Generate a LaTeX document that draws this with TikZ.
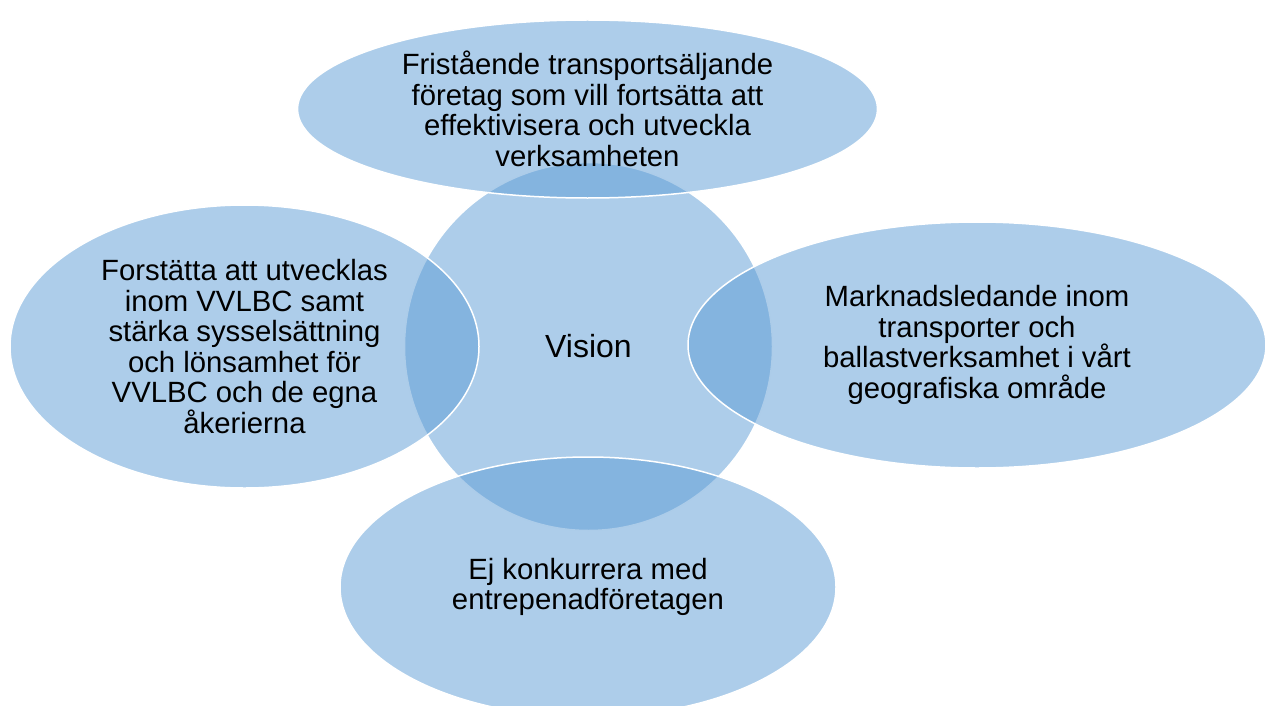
\documentclass[tikz,border=0pt]{standalone}
\usepackage{fontspec}
\setmainfont{Liberation Sans}
\usetikzlibrary{shapes.geometric}
\definecolor{accent}{RGB}{91,155,213}
\begin{document}
\begin{tikzpicture}[x=1pt,y=-1pt,
  blob/.style={ellipse,inner sep=0pt,fill=accent,fill opacity=0.5,text opacity=1,
    draw=white,line width=1.5pt,draw opacity=1,align=center,
    font=\fontsize{29.3}{30.5}\selectfont}]
\useasboundingbox (0,0) rectangle (1265,706);
\node[blob,circle,minimum size=368pt,font=\fontsize{32}{36}\selectfont] (vision) at (588.5,346.5) {Vision};
\node[blob,minimum width=580pt,minimum height=178pt] (top) at (587.5,109) {Fristående transportsäljande\\företag som vill fortsätta att\\effektivisera och utveckla\\verksamheten};
\node[blob,minimum width=469pt,minimum height=283pt] (left) at (244.5,346.5) {Forstätta att utvecklas\\inom VVLBC samt\\stärka sysselsättning\\och lönsamhet för\\VVLBC och de egna\\åkerierna};
\node[blob,minimum width=578pt,minimum height=246pt] (right) at (977,345) {Marknadsledande inom\\transporter och\\ballastverksamhet i vårt\\geografiska område};
\node[blob,minimum width=496pt,minimum height=260pt] (bottom) at (588,587) {Ej konkurrera med\\entrepenadföretagen};
\end{tikzpicture}
\end{document}
